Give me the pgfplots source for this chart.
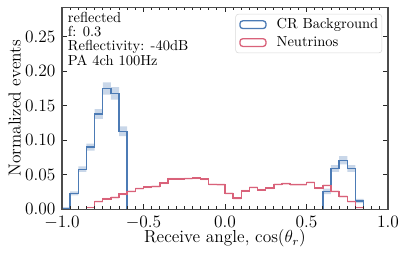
\documentclass[border=0pt]{standalone}
\usepackage{pgfplots}
\usepackage{pgfplotstable}
\pgfplotsset{compat=1.18}
\usepgfplotslibrary{fillbetween}
\definecolor{crblue}{HTML}{4C7BB5}
\definecolor{nured}{HTML}{D9627A}

\pgfplotstableread{
x y lo hi
-1.00 0.001 0.000 0.003
-0.95 0.023 0.020 0.026
-0.90 0.058 0.054 0.062
-0.85 0.090 0.085 0.095
-0.80 0.138 0.131 0.145
-0.75 0.175 0.166 0.184
-0.70 0.168 0.159 0.177
-0.65 0.113 0.106 0.120
-0.60 0 0 0
}\crleft

\pgfplotstableread{
x y lo hi
0.60 0 0 0
0.60 0.026 0.022 0.030
0.65 0.059 0.054 0.064
0.70 0.071 0.065 0.077
0.75 0.059 0.054 0.064
0.80 0.012 0.009 0.015
0.85 0 0 0
}\crright

\pgfplotstableread{
x y lo hi
-1.00 0 0 0
-0.95 0 0 0
-0.90 0 0 0
-0.85 0.0025 0.0015 0.0035
-0.80 0.011 0.0095 0.0125
-0.75 0.015 0.0135 0.0165
-0.70 0.017 0.0155 0.0185
-0.65 0.022 0.0205 0.0235
-0.60 0.026 0.0245 0.0275
-0.55 0.030 0.0285 0.0315
-0.50 0.032 0.0305 0.0335
-0.45 0.033 0.0315 0.0345
-0.40 0.038 0.0365 0.0395
-0.35 0.044 0.0425 0.0455
-0.30 0.044 0.0425 0.0455
-0.25 0.0445 0.043 0.046
-0.20 0.045 0.0435 0.0465
-0.15 0.0437 0.0422 0.0452
-0.10 0.036 0.0345 0.0375
-0.05 0.0355 0.034 0.037
0.00 0.023 0.0215 0.0245
0.05 0.016 0.0145 0.0175
0.10 0.0267 0.0252 0.0282
0.15 0.0316 0.0301 0.0331
0.20 0.028 0.0265 0.0295
0.25 0.0306 0.0291 0.0321
0.30 0.036 0.0345 0.0375
0.35 0.037 0.0355 0.0385
0.40 0.0355 0.034 0.037
0.45 0.0355 0.034 0.037
0.50 0.039 0.0375 0.0405
0.55 0.0306 0.0291 0.0321
0.60 0.0345 0.033 0.036
0.65 0.0258 0.0243 0.0273
0.70 0.0185 0.017 0.020
0.75 0.011 0.0095 0.0125
0.80 0.0024 0.0012 0.0036
0.85 0 0 0
}\nutab

\begin{document}
\begin{tikzpicture}
\begin{axis}[
  name=ax,
  scale only axis,
  width=224.8pt, height=139.3pt,
  xmin=-1, xmax=1, ymin=0, ymax=0.2928,
  xtick={-1,-0.5,0,0.5,1},
  ytick={0,0.05,0.1,0.15,0.2,0.25},
  minor x tick num=9,
  tick align=inside,
  major tick length=3.5pt, minor tick length=2pt,
  x tick label style={yshift=-1pt, /pgf/number format/.cd, fixed, fixed zerofill, precision=1},
  y tick label style={xshift=-1pt, /pgf/number format/.cd, fixed, fixed zerofill, precision=2},
  tick label style={font=\fontsize{12.5}{14}\selectfont},
  axis line style={black!70, line width=0.8pt},
  every tick/.style={black!85, line width=0.6pt},
  axis on top,
  legend style={at={(0.982,0.967)}, anchor=north east, draw=black!15,
    rounded corners=2pt, fill=white, font=\fontsize{10}{12}\selectfont,
    inner xsep=2.5pt, inner ysep=1pt, column sep=6.9pt,
    nodes={inner xsep=0pt, inner ysep=1.95pt}},
  legend cell align=left,
  legend image code/.code={\draw[#1, line width=0.9pt] (0pt,-2.65pt) rectangle (18pt,2.65pt);},
]
% bands
\addplot[const plot, draw=none, name path=bl_hi, forget plot] table[x=x,y=hi] {\crleft};
\addplot[const plot, draw=none, name path=bl_lo, forget plot] table[x=x,y=lo] {\crleft};
\addplot[fill=crblue, fill opacity=0.3, draw=none, forget plot] fill between[of=bl_hi and bl_lo];
\addplot[const plot, draw=none, name path=br_hi, forget plot] table[x=x,y=hi] {\crright};
\addplot[const plot, draw=none, name path=br_lo, forget plot] table[x=x,y=lo] {\crright};
\addplot[fill=crblue, fill opacity=0.3, draw=none, forget plot] fill between[of=br_hi and br_lo];
\addplot[const plot, draw=none, name path=n_hi, forget plot] table[x=x,y=hi] {\nutab};
\addplot[const plot, draw=none, name path=n_lo, forget plot] table[x=x,y=lo] {\nutab};
\addplot[fill=nured, fill opacity=0.3, draw=none, forget plot] fill between[of=n_hi and n_lo];
% lines
\addplot[const plot, crblue, line width=1pt] table[x=x,y=y] {\crleft};
\addlegendentry{CR Background}
\addplot[const plot, crblue, line width=1pt, forget plot] table[x=x,y=y] {\crright};
\addplot[const plot, nured, line width=1pt] table[x=x,y=y] {\nutab};
\addlegendentry{Neutrinos}
\end{axis}
\node[rotate=90, anchor=base, font=\fontsize{12}{14}\selectfont] at ([xshift=-28.5pt]ax.west) {Normalized events};
\node[anchor=base, font=\fontsize{12}{14}\selectfont] at ([yshift=-23.2pt]ax.south) {Receive angle, $\cos(\theta_r)$};
\node[anchor=base west, inner sep=0pt, font=\fontsize{10}{12}\selectfont] at ([xshift=3.9pt,yshift=-10.5pt]ax.north west) {reflected};
\node[anchor=base west, inner sep=0pt, font=\fontsize{10}{12}\selectfont] at ([xshift=3.9pt,yshift=-20.3pt]ax.north west) {f: 0.3};
\node[anchor=base west, inner sep=0pt, font=\fontsize{10}{12}\selectfont] at ([xshift=3.9pt,yshift=-30.1pt]ax.north west) {Reflectivity: -40dB};
\node[anchor=base west, inner sep=0pt, font=\fontsize{10}{12}\selectfont] at ([xshift=3.9pt,yshift=-39.9pt]ax.north west) {PA 4ch 100Hz};
\pgfresetboundingbox
\path[use as bounding box] ([xshift=-42.76pt,yshift=-31.5pt]ax.south west) rectangle ([xshift=13.1pt,yshift=5.0pt]ax.north east);
\end{tikzpicture}
\end{document}
